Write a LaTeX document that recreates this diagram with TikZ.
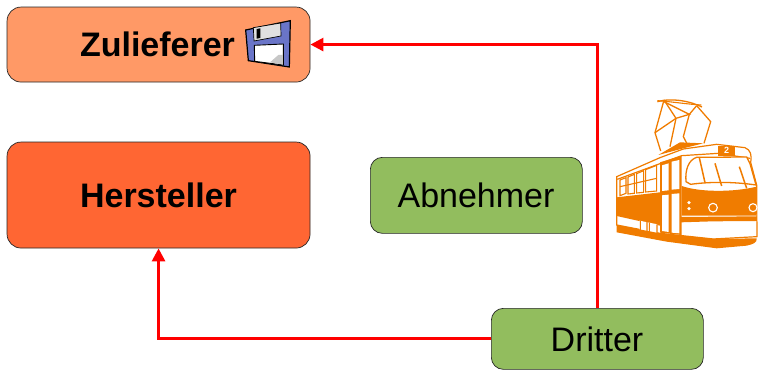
\documentclass[tikz,border=0pt]{standalone}
\usepackage{fontspec}
\setmainfont{Liberation Sans}
\usetikzlibrary{arrows.meta}
\definecolor{zul}{HTML}{FF9966}
\definecolor{her}{HTML}{FF6633}
\definecolor{grn}{HTML}{92BD5E}
\definecolor{tram}{HTML}{F07C00}
\definecolor{flop}{HTML}{6A75C8}
\tikzset{
  box/.style={draw=black!85,line width=0.7pt,rounded corners=14pt,inner sep=0pt,anchor=north west},
  flow/.style={draw=red,line width=2.8pt,-{Triangle[length=13pt,width=13pt]}},
  tl/.style={draw=tram,line width=1.1pt,fill=none},
  fl/.style={draw=black,line width=1.2pt,line join=miter}
}
\begin{document}
\begin{tikzpicture}[x=1pt,y=-1pt]
\useasboundingbox (0,0) rectangle (759,369);
% boxes
\node[box,fill=zul,minimum width=303pt,minimum height=75pt] (z) at (6.7,6.7) {};
\node[font=\fontsize{34}{40}\selectfont\bfseries] (zt) at (157.5,44) {Zulieferer};
\node[box,fill=her,minimum width=303pt,minimum height=106pt] (h) at (6.7,141.7) {};
\node[font=\fontsize{34}{40}\selectfont\bfseries] (ht) at (158.5,195) {Hersteller};
\node[box,fill=grn,minimum width=212pt,minimum height=76pt,rounded corners=12pt] (a) at (370,157) {};
\node[font=\fontsize{34}{40}\selectfont] (at) at (476,195) {Abnehmer};
\node[box,fill=grn,minimum width=212pt,minimum height=61pt,rounded corners=12pt] (d) at (491,308) {};
\node[font=\fontsize{34}{40}\selectfont] (dt) at (597,339) {Dritter};
% connectors
\draw[flow] (d.north) -- (d.north |- z.east) -- (z.east);
\draw[flow] (d.west) -- (h.south |- d.west) -- (h.south);
% floppy (zoom coordinates)
\begin{scope}[shift={(230,0)},x=0.3333pt,y=-0.3333pt]
\filldraw[fl,fill=flop] (47,90) -- (181,62) -- (178,201) -- (55,182) -- cycle;
\filldraw[fill=black!12,draw=black,line width=0.7pt] (70,83) -- (152,69) -- (153,108) -- (72,123) -- cycle;
\fill[black] (80,87) -- (91,85) -- (91,114) -- (80,116) -- cycle;
\filldraw[fill=white,draw=black,line width=0.9pt] (73,136) -- (160,132) -- (160,195) -- (74,184) -- cycle;
\fill[black!22] (120,187) -- (145,165) -- (159,165) -- (159,194) -- cycle;
\end{scope}
% tram (zoom coordinates)
\begin{scope}[shift={(600,85)},x=0.3333pt,y=-0.3333pt]
% pantograph
\draw[tl,line width=1.3pt] (172,50) .. controls (215,38) and (270,48) .. (306,66);
\draw[tl,line width=1.1pt] (172,47) .. controls (215,50) and (265,58) .. (304,60);
\draw[tl,line width=1.3pt] (192,45) -- (165,143) -- (182,198);
\draw[tl,line width=1.3pt] (192,45) -- (228,100) -- (165,143);
\draw[tl,line width=1.3pt] (192,50) -- (268,88) -- (228,100) -- (210,185);
\draw[tl,line width=1.3pt] (290,62) -- (268,88) -- (250,155) -- (262,178);
\draw[tl,line width=1.3pt] (290,62) -- (332,110) -- (312,175);
% roof base
\fill[tram] (175,210) -- (240,172) -- (310,175) -- (250,190) -- cycle;
% body outline
\filldraw[tl,fill=white,line width=1.2pt] (50,275) -- (180,218) -- (250,192) -- (350,178) -- (435,188) .. controls (452,195) and (456,210) .. (452,232) -- (470,300) -- (471,455) -- (340,462) -- (180,445) -- (50,420) -- cycle;
\draw[tl,line width=1.2pt] (52,283) -- (245,212) -- (355,205) -- (450,220);
% cab number
\fill[tram] (355,182) -- (405,182) -- (405,212) -- (355,212) -- cycle;
\node[text=white,font=\fontsize{9}{9}\selectfont\bfseries,inner sep=0pt] (num) at (380,197) {2};
% side windows
\draw[tl] (60,285) -- (78,278) -- (78,325) -- (60,332) -- cycle;
\draw[tl] (84,276) -- (103,268) -- (103,325) -- (84,327) -- cycle;
\draw[tl] (110,266) -- (131,257) -- (131,322) -- (110,324) -- cycle;
\draw[tl] (137,254) -- (170,241) -- (170,318) -- (137,321) -- cycle;
\draw[tl] (60,305) -- (170,280);
% lower band
\fill[tram] (50,337) -- (180,322) -- (180,422) -- (50,393) -- cycle;
% door block
\fill[tram] (180,232) -- (245,212) -- (245,450) -- (180,443) -- cycle;
\fill[white] (186,241) -- (206,235) -- (206,316) -- (186,318) -- cycle;
\fill[white] (215,230) -- (238,225) -- (238,312) -- (215,314) -- cycle;
\fill[white] (186,331) -- (206,329) -- (206,441) -- (186,438) -- cycle;
\fill[white] (215,327) -- (238,325) -- (238,445) -- (215,443) -- cycle;
% wheels
\fill[white] (118,407) -- (172,418) -- (172,450) -- (118,440) -- cycle;
\draw[tl,line width=1.1pt] (121,408) -- (121,438) .. controls (123,455) and (138,455) .. (141,440) -- (141,410);
\draw[tl,line width=1.1pt] (148,413) -- (148,442) .. controls (150,462) and (168,462) .. (171,445) -- (171,418);
% front band
\fill[tram] (245,303) .. controls (300,322) and (400,322) .. (470,305) -- (470,392) -- (245,392) -- cycle;
\fill[tram] (243,396) -- (471,394) -- (471,408) -- (340,409) -- (243,412) -- cycle;
% front window
\draw[tl,line width=1.3pt,fill=white] (290,217) .. controls (265,225) and (255,255) .. (258,290) -- (272,298) .. controls (330,290) and (400,290) .. (468,300) -- (450,236) -- (440,216) -- cycle;
\draw[tl,line width=1.5pt] (298,218) -- (315,293);
\draw[tl,line width=1.5pt] (345,235) -- (365,303);
\draw[tl,line width=1.5pt] (418,245) -- (440,310);
% lights
\fill[white] (267,353) circle (5.5);
\fill[white] (267,371) circle (5.5);
\filldraw[fill=tram,draw=white,line width=1.1pt] (339,368) circle (13);
\filldraw[fill=tram,draw=white,line width=1.1pt] (459,368) circle (12);
% skirt
\fill[tram] (50,420) -- (180,445) -- (245,452) -- (340,462) -- (470,460) .. controls (472,472) and (460,478) .. (440,482) -- (350,490) -- (200,470) -- (50,442) -- cycle;
\end{scope}
\end{tikzpicture}
\end{document}
